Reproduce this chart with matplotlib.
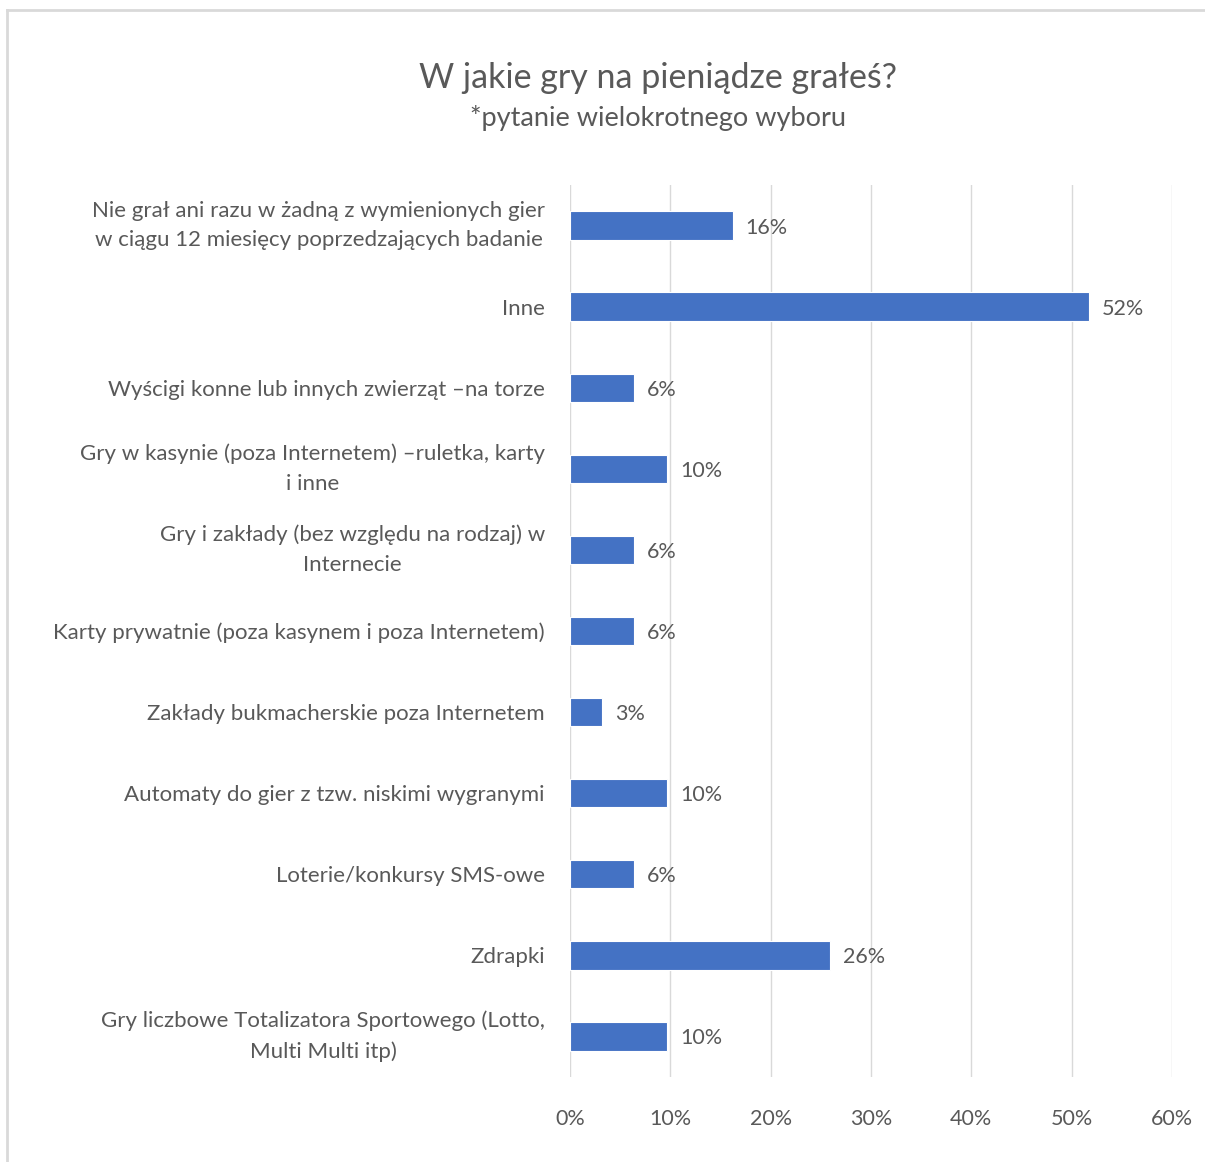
import matplotlib.pyplot as plt
from matplotlib.lines import Line2D

categories = [
    "Nie grał ani razu w żadną z wymienionych gier\nw ciągu 12 miesięcy poprzedzających badanie",
    "Inne",
    "Wyścigi konne lub innych zwierząt –na torze",
    "Gry w kasynie (poza Internetem) –ruletka, karty\ni inne",
    "Gry i zakłady (bez względu na rodzaj) w\nInternecie",
    "Karty prywatnie (poza kasynem i poza Internetem)",
    "Zakłady bukmacherskie poza Internetem",
    "Automaty do gier z tzw. niskimi wygranymi",
    "Loterie/konkursy SMS-owe",
    "Zdrapki",
    "Gry liczbowe Totalizatora Sportowego (Lotto,\nMulti Multi itp)",
]
values = [16.2, 51.7, 6.4, 9.7, 6.4, 6.4, 3.2, 9.7, 6.4, 25.9, 9.7]
value_labels = ["16%", "52%", "6%", "10%", "6%", "6%", "3%", "10%", "6%", "26%", "10%"]
xticks = [0, 10, 20, 30, 40, 50, 60]

plt.rcParams['font.family'] = ['Lato', 'DejaVu Sans']
txt = '#595959'
grid = '#d9d9d9'

W, H = 1205, 1162
fig = plt.figure(figsize=(W / 100, H / 100), dpi=100)
ax = fig.add_axes([570 / W, 1 - 1077 / H, (1172 - 570) / W, (1077 - 185) / H])

y = list(range(len(categories)))
ax.barh(y, values, height=0.35, color='#4472C4', edgecolor='white', linewidth=0.8, zorder=3)
for yi, v, lab in zip(y, values, value_labels):
    ax.text(v + 1.3, yi, lab, va='center_baseline', ha='left', fontsize=15.5, color=txt, zorder=4)

ax.set_xlim(0, 60)
ax.set_ylim(len(categories) - 0.5, -0.5)
ax.set_xticks(xticks)
ax.set_xticklabels([f"{t}%" for t in xticks], fontsize=15.5, color=txt)
ax.set_yticks(y)
ax.set_yticklabels(categories, fontsize=16, color=txt, multialignment='center', linespacing=1.6)
for lbl in ax.get_yticklabels():
    if "\n" in lbl.get_text():
        lbl.set_va('center')
ax.tick_params(axis='both', length=0)
ax.tick_params(axis='y', pad=18)
ax.tick_params(axis='x', pad=23)
ax.grid(axis='x', color=grid, linewidth=1, zorder=0)
for s in ax.spines.values():
    s.set_visible(False)

fig.text(658 / W, 1 - 78 / H, "W jakie gry na pieniądze grałeś?", ha='center', va='center',
         fontsize=24.5, color=txt)
fig.text(658 / W, 1 - 118 / H, "*pytanie wielokrotnego wyboru", ha='center', va='center',
         fontsize=19.5, color=txt)

# chart frame
fig.add_artist(Line2D([7 / W, 1], [1 - 10 / H, 1 - 10 / H], color=grid, linewidth=2))
fig.add_artist(Line2D([7 / W, 7 / W], [0, 1 - 10 / H], color=grid, linewidth=2))

fig.savefig("out.png", dpi=100)
